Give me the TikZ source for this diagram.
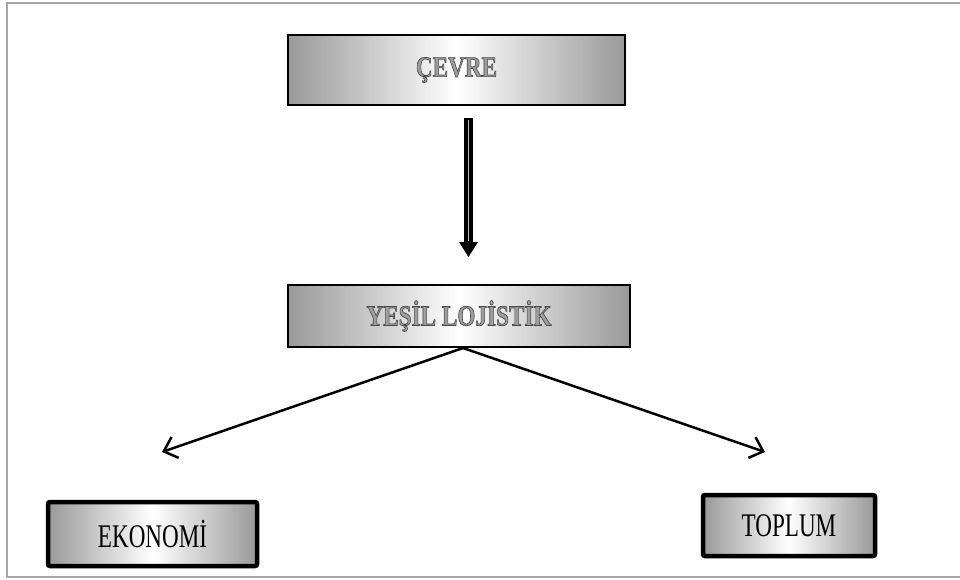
\documentclass[tikz,border=0pt]{standalone}
\usepackage{fontspec}
\setmainfont{Liberation Serif}
\usetikzlibrary{arrows.meta}
\newcommand\embtext[1]{\special{pdf:code q 2 Tr 0.7 w 0.28 G 0.62 g}#1\special{pdf:code Q}}
\begin{document}
\begin{tikzpicture}[x=1pt,y=-1pt,
  topbox/.style={draw=black, line width=2pt, left color=gray!80, right color=gray!80, middle color=white, inner sep=0pt,
    font=\fontsize{29}{32}\selectfont\bfseries},
  botbox/.style={draw=black, line width=4.5pt, rounded corners=2pt, left color=gray!80, right color=gray!80, middle color=white, inner sep=0pt,
    font=\fontsize{33}{36}\selectfont},
  diag/.style={line width=2.5pt, -{Straight Barb[length=12pt,width=22pt]}}]
\useasboundingbox (0,0) rectangle (960,579);
\draw[gray!70, line width=2pt] (7,3) rectangle (975,577);

\node[topbox, minimum width=337pt, minimum height=70pt] (cevre) at (456.5,70) {\scalebox{0.8}[1]{\embtext{ÇEVRE}}};
\node[topbox, minimum width=342pt, minimum height=62pt] (yesil) at (459,316) {\scalebox{0.8}[1]{\embtext{YEŞİL LOJİSTİK}}};
\node[botbox, minimum width=209pt, minimum height=64pt] (eko) at (152.5,534) {\scalebox{0.7}[1]{EKONOMİ}};
\node[botbox, minimum width=172pt, minimum height=61pt] (toplum) at (789,525.5) {\scalebox{0.7}[1]{TOPLUM}};

% double down arrow
\coordinate (s1) at ([xshift=12pt,yshift=-12pt]cevre.south);
\coordinate (s3) at ([xshift=9.5pt,yshift=27pt]yesil.north);
\coordinate (s2) at ([yshift=15pt]s3);
\draw[line width=9pt] (s1) -- ([yshift=-1pt]s2);
\draw[gray!55, line width=1.5pt] ([yshift=-2pt]s1) -- ([yshift=1pt]s2);
\fill ([xshift=-9.5pt]s2) -- ([xshift=9.5pt]s2) -- (s3) -- cycle;

% diagonal arrows
\coordinate (el) at (162,452);
\coordinate (er) at (765,452);
\draw[diag] ([xshift=4pt]yesil.south) -- (el);
\draw[diag] ([xshift=4pt]yesil.south) -- (er);
\end{tikzpicture}
\end{document}
